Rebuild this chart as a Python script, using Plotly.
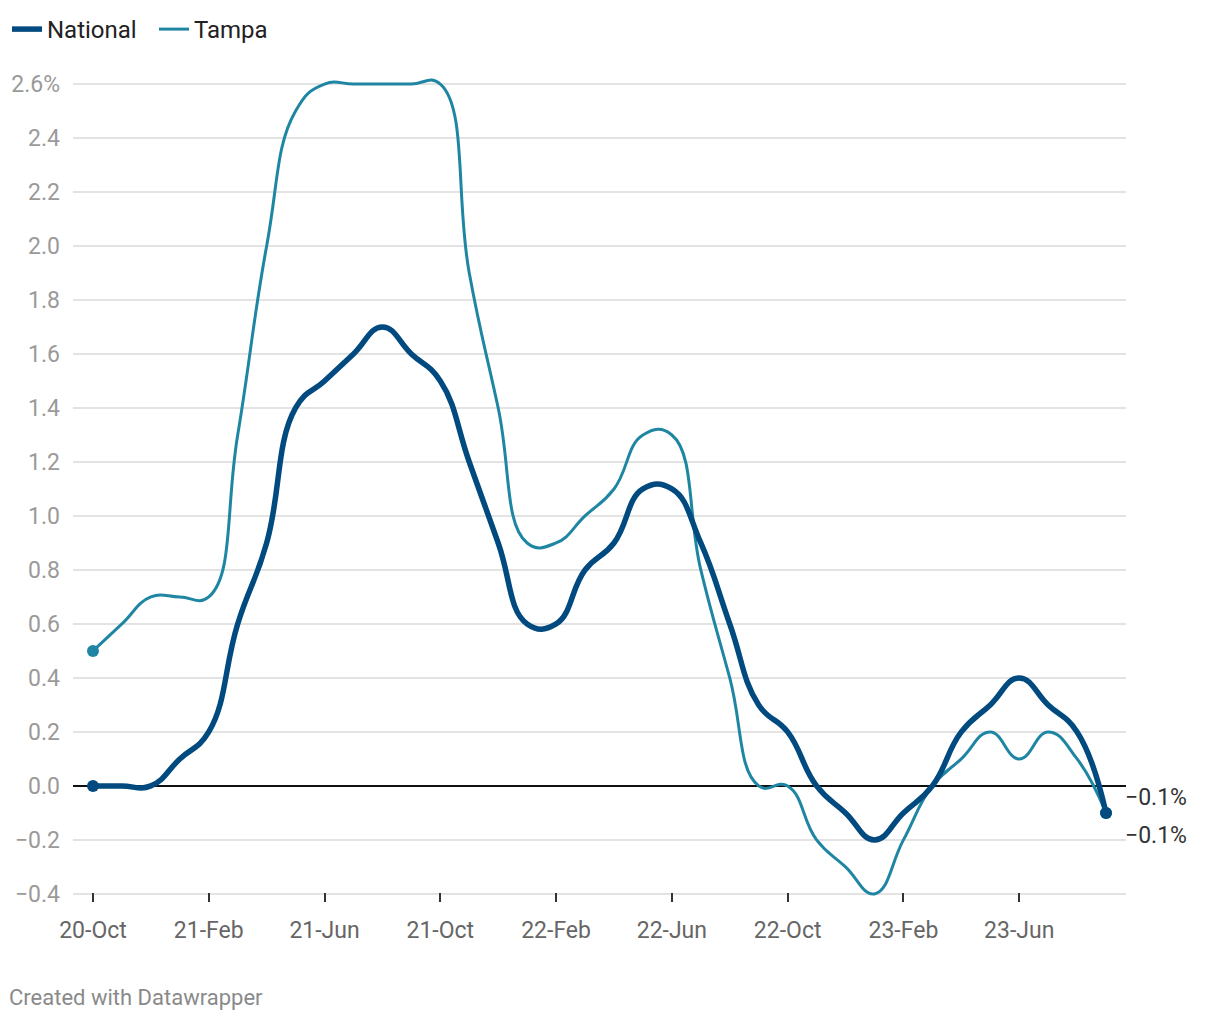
import plotly.graph_objects as go

months = ["20-Oct", "20-Nov", "20-Dec",
          "21-Jan", "21-Feb", "21-Mar", "21-Apr", "21-May", "21-Jun",
          "21-Jul", "21-Aug", "21-Sep", "21-Oct", "21-Nov", "21-Dec",
          "22-Jan", "22-Feb", "22-Mar", "22-Apr", "22-May", "22-Jun",
          "22-Jul", "22-Aug", "22-Sep", "22-Oct", "22-Nov", "22-Dec",
          "23-Jan", "23-Feb", "23-Mar", "23-Apr", "23-May", "23-Jun",
          "23-Jul", "23-Aug", "23-Sep"]

national = [0.0, 0.0, 0.0,
            0.1, 0.2, 0.6, 0.9, 1.4, 1.5,
            1.6, 1.7, 1.6, 1.5, 1.2, 0.9,
            0.6, 0.6, 0.8, 0.9, 1.1, 1.1,
            0.9, 0.6, 0.3, 0.2, 0.0, -0.1,
            -0.2, -0.1, 0.0, 0.2, 0.3, 0.4,
            0.3, 0.2, -0.1]

tampa = [0.5, 0.6, 0.7,
         0.7, 0.7, 1.3, 2.0, 2.5, 2.6,
         2.6, 2.6, 2.6, 2.6, 1.9, 1.4,
         0.9, 0.9, 1.0, 1.1, 1.3, 1.3,
         0.8, 0.4, 0.0, 0.0, -0.2, -0.3,
         -0.4, -0.2, 0.0, 0.1, 0.2, 0.1,
         0.2, 0.1, -0.1]

x_ticks = ["20-Oct", "21-Feb", "21-Jun", "21-Oct", "22-Feb", "22-Jun",
           "22-Oct", "23-Feb", "23-Jun"]
y_ticks = [-0.4, -0.2, 0.0, 0.2, 0.4, 0.6, 0.8, 1.0, 1.2, 1.4, 1.6, 1.8,
           2.0, 2.2, 2.4, 2.6]

NAT_COLOR = "#004a7f"
TAMPA_COLOR = "#1e86a3"
FONT = "Roboto, 'Noto Sans', sans-serif"


def fmt(v, pct=False):
    s = f"{abs(v):.1f}"
    if v < 0:
        s = "\u2212" + s
    return s + ("%" if pct else "")


y_text = [fmt(v, pct=(i == len(y_ticks) - 1)) for i, v in enumerate(y_ticks)]

fig = go.Figure()

fig.add_trace(go.Scatter(
    x=months, y=tampa, mode="lines", name="Tampa",
    line=dict(color=TAMPA_COLOR, width=3, shape="spline", smoothing=1.3),
))
fig.add_trace(go.Scatter(
    x=months, y=national, mode="lines", name="National",
    line=dict(color=NAT_COLOR, width=5.5, shape="spline", smoothing=1.3),
))
# end point dots
fig.add_trace(go.Scatter(
    x=[months[0], months[-1]], y=[tampa[0], tampa[-1]], mode="markers",
    marker=dict(color=TAMPA_COLOR, size=12), showlegend=False, cliponaxis=False,
))
fig.add_trace(go.Scatter(
    x=[months[0], months[-1]], y=[national[0], national[-1]], mode="markers",
    marker=dict(color=NAT_COLOR, size=12), showlegend=False, cliponaxis=False,
))

# end value labels
fig.add_annotation(x=months[-1], y=national[-1], text=fmt(national[-1], True),
                   xanchor="left", yanchor="middle", showarrow=False,
                   xshift=17, yshift=15,
                   font=dict(family=FONT, size=23, color="#333333"))
fig.add_annotation(x=months[-1], y=tampa[-1], text=fmt(tampa[-1], True),
                   xanchor="left", yanchor="middle", showarrow=False,
                   xshift=17, yshift=-23,
                   font=dict(family=FONT, size=23, color="#333333"))

fig.add_annotation(
    text="Created with Datawrapper", showarrow=False,
    xref="paper", yref="paper", x=(-73 + 7) / 1053, y=-(997 - 902) / 832,
    xanchor="left", yanchor="middle",
    font=dict(family=FONT, size=22, color="#8a8a8a"))

fig.update_layout(
    width=1220, height=1020,
    margin=dict(l=73, r=94, t=70, b=118),
    paper_bgcolor="white", plot_bgcolor="white",
    font=dict(family=FONT, size=23, color="#333333"),
    showlegend=True,
    legend=dict(orientation="h", xref="container", yref="container",
                x=7 / 1220, y=1 - 7 / 1020, xanchor="left", yanchor="top",
                font=dict(family=FONT, size=24, color="#222222"),
                traceorder="reversed", itemwidth=30,
                entrywidth=102, entrywidthmode="pixels",
                bgcolor="rgba(0,0,0,0)"),
    xaxis=dict(
        type="category", categoryorder="array", categoryarray=months,
        range=[-0.69, len(months) - 1 + 0.69],
        tickmode="array", tickvals=x_ticks, ticktext=x_ticks,
        ticks="inside", ticklen=9, tickwidth=2, tickcolor="#333333",
        showgrid=False, showline=False, zeroline=False,
        tickfont=dict(family=FONT, size=23, color="#666666"),
        ticklabelstandoff=12,
    ),
    yaxis=dict(
        range=[-0.43, 2.652],
        tickmode="array", tickvals=y_ticks, ticktext=y_text,
        showgrid=True, gridcolor="#e3e3e3", gridwidth=1.5,
        zeroline=True, zerolinecolor="#111111", zerolinewidth=1.6,
        showline=False, ticks="",
        tickfont=dict(family=FONT, size=23, color="#9a9a9a"),
        ticklabelstandoff=12,
    ),
)

fig.write_html("out.html")
